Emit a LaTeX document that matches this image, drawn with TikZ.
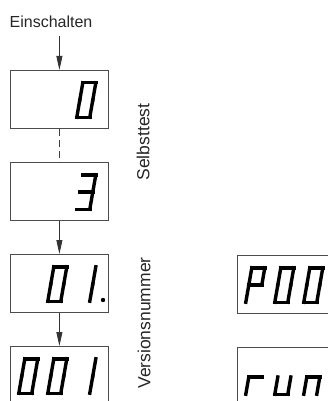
\documentclass[tikz,border=0pt]{standalone}
\usepackage{fontspec}
\setmainfont{Liberation Sans}
\usetikzlibrary{arrows.meta,calc,positioning}
% seven segment digit: box, cell (0,1,2), segments
\newcommand{\sevseg}[3]{\begin{scope}[shift={($(#1.north west)+(8.8+29*#2,47.2)$)},x={(13pt,0pt)},y={(6pt,34.4pt)}]
  \foreach \n/\u/\v/\U/\V in {a/0/1/1/1,b/1/1/1/.5,c/1/.5/1/0,d/0/0/1/0,e/0/0/0/.5,f/0/.5/0/1,g/0/.5/1/.5}
    {\coordinate (seg\n-s) at (\u,\v); \coordinate (seg\n-e) at (\U,\V);}
  \foreach \s in {#3} \draw[segline] (seg\s-s) -- (seg\s-e);\end{scope}}
\newcommand{\sevdot}[2]{\fill ($(#1.north west)+(8.8+29*#2+26.2,46)$) circle (2.2pt);}

\begin{document}
\begin{tikzpicture}[x=1pt,y=-1pt,font=\fontsize{16}{19}\selectfont,
  dispbox/.style={draw=black!70,line width=0.8pt,minimum width=98pt,minimum height=58pt,inner sep=0pt,anchor=north west},
  segline/.style={line width=3.4pt,line cap=rect},
  arr/.style={-{Triangle[length=14pt,width=6pt]},line width=0.8pt,black!80},
  lbl/.style={text=black!85},
  sidelbl/.style={lbl,rotate=90,font=\fontsize{17.5}{20}\selectfont}]
\useasboundingbox (0,0) rectangle (328,401);
% power on and self test
\node[lbl,anchor=base,inner ysep=8pt] (ein) at (51,28) {Einschalten};
\node[dispbox] (b1) at (10,70) {};
\node[dispbox] (b2) at (10,162) {};
\draw[arr] (ein.south -| b1.north) -- (b1.north);
\draw[line width=0.8pt,black!75,dash pattern=on 7pt off 4pt] (b1) -- (b2);
\sevseg{b1}{2}{a,b,c,d,e,f}
\sevseg{b2}{2}{a,b,c,d,g}
\node[sidelbl] (selbst) at (143,142) {Selbsttest};
% version number
\node[dispbox] (b3) at (10,254) {};
\node[dispbox] (b4) at (10,346) {};
\draw[arr] (b2) -- (b3);
\draw[arr] (b3) -- (b4);
\sevseg{b3}{1}{a,b,c,d,e,f}
\sevseg{b3}{2}{b,c}
\sevdot{b3}{2}
\sevseg{b4}{0}{a,b,c,d,e,f}
\sevseg{b4}{1}{a,b,c,d,e,f}
\sevseg{b4}{2}{b,c}
\node[sidelbl] (vers) at (144,323) {Versionsnummer};
% parameter and run displays
\node[dispbox] (p1) at (237,255) {};
\node[dispbox] (p2) at (237,347) {};
\sevseg{p1}{0}{a,b,e,f,g}
\sevseg{p1}{1}{a,b,c,d,e,f}
\sevseg{p1}{2}{a,b,c,d,e,f}
\sevseg{p2}{0}{e,g}
\sevseg{p2}{1}{c,d,e}
\sevseg{p2}{2}{c,e,g}
\end{tikzpicture}
\end{document}
